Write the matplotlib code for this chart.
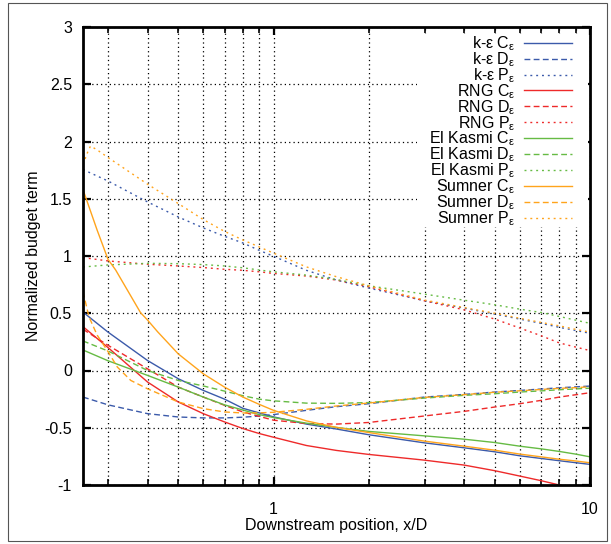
import matplotlib
matplotlib.use("Agg")
import matplotlib.pyplot as plt
from matplotlib.patches import Rectangle
from matplotlib.ticker import FixedLocator, NullFormatter, FuncFormatter

plt.rcParams['font.family'] = ['Liberation Sans', 'DejaVu Sans']
plt.rcParams['mathtext.fontset'] = 'custom'
plt.rcParams['mathtext.rm'] = 'Liberation Sans'
plt.rcParams['mathtext.it'] = 'Liberation Sans'
plt.rcParams['axes.unicode_minus'] = False

# ---------------- data ----------------
x_common = [0.25, 0.3, 0.4, 0.5, 0.6, 0.7, 0.8, 0.9, 1.0, 1.27, 1.58, 2, 3, 4, 5, 6, 7, 8, 9, 10]

ke_C = [0.51, 0.335, 0.087, -0.072, -0.174, -0.250, -0.33, -0.37, -0.405, -0.468, -0.511, -0.561, -0.632, -0.675, -0.710, -0.745, -0.768, -0.788, -0.805, -0.820]
ke_D = [-0.232, -0.30, -0.377, -0.406, -0.414, -0.414, -0.408, -0.398, -0.385, -0.348, -0.316, -0.29, -0.232, -0.209, -0.188, -0.174, -0.162, -0.151, -0.143, -0.136]
ke_P = [1.755, 1.655, 1.472, 1.341, 1.245, 1.172, 1.114, 1.05, 0.998, 0.875, 0.79, 0.72, 0.609, 0.545, 0.493, 0.449, 0.412, 0.377, 0.35, 0.325]

rng_C = [0.383, 0.20, -0.101, -0.275, -0.377, -0.449, -0.507, -0.55, -0.583, -0.655, -0.698, -0.733, -0.783, -0.826, -0.875, -0.922, -0.962, -1.0, -1.03, -1.06]
rng_D = [0.36, 0.22, 0.014, -0.145, -0.232, -0.304, -0.362, -0.40, -0.434, -0.463, -0.468, -0.454, -0.397, -0.357, -0.319, -0.290, -0.261, -0.232, -0.212, -0.194]
rng_P = [0.986, 0.957, 0.928, 0.913, 0.899, 0.884, 0.875, 0.862, 0.848, 0.825, 0.79, 0.731, 0.609, 0.530, 0.449, 0.371, 0.304, 0.241, 0.205, 0.174]

ek_C = [0.179, 0.085, -0.043, -0.145, -0.232, -0.300, -0.345, -0.385, -0.411, -0.46, -0.497, -0.532, -0.571, -0.600, -0.629, -0.661, -0.684, -0.707, -0.73, -0.754]
ek_D = [0.258, 0.17, 0.0, -0.087, -0.135, -0.18, -0.22, -0.25, -0.265, -0.285, -0.287, -0.28, -0.241, -0.217, -0.203, -0.188, -0.178, -0.168, -0.161, -0.154]
ek_P = [0.904, 0.922, 0.936, 0.933, 0.925, 0.913, 0.897, 0.878, 0.862, 0.833, 0.795, 0.74, 0.667, 0.614, 0.574, 0.536, 0.507, 0.472, 0.44, 0.412]

su_C_x = [0.25, 0.277, 0.3, 0.317, 0.38, 0.4, 0.43, 0.5, 0.6, 0.7, 0.8, 0.9, 1.0, 1.27, 1.58, 2, 3, 4, 5, 6, 7, 8, 9, 10]
su_C = [1.58, 1.227, 0.97, 0.878, 0.505, 0.44, 0.339, 0.145, -0.029, -0.145, -0.232, -0.295, -0.348, -0.44, -0.497, -0.542, -0.617, -0.661, -0.696, -0.730, -0.754, -0.775, -0.79, -0.806]
su_D_x = [0.25, 0.261, 0.277, 0.3, 0.321, 0.354, 0.4, 0.5, 0.6, 0.7, 0.8, 0.9, 1.0, 1.27, 1.58, 2, 3, 4, 5, 6, 7, 8, 9, 10]
su_D = [0.688, 0.47, 0.31, 0.164, 0.03, -0.087, -0.16, -0.275, -0.333, -0.362, -0.371, -0.37, -0.365, -0.339, -0.31, -0.284, -0.235, -0.211, -0.19, -0.177, -0.166, -0.156, -0.15, -0.142]
su_P_x = [0.25, 0.258, 0.264, 0.276, 0.3, 0.4, 0.5, 0.6, 0.7, 0.8, 0.9, 1.0, 1.27, 1.58, 2, 3, 4, 5, 6, 7, 8, 9, 10]
su_P = [1.80, 1.90, 1.96, 1.93, 1.86, 1.627, 1.458, 1.318, 1.215, 1.14, 1.08, 1.025, 0.905, 0.819, 0.74, 0.615, 0.55, 0.50, 0.456, 0.42, 0.39, 0.36, 0.335]

x_ticks = [1, 10]
x_minor = [0.3, 0.4, 0.5, 0.6, 0.7, 0.8, 0.9, 2, 3, 4, 5, 6, 7, 8, 9]
y_ticks = [-1, -0.5, 0, 0.5, 1, 1.5, 2, 2.5, 3]

c_blue = '#3b5aaa'
c_red = '#ee2a2a'
c_green = '#66bb44'
c_orange = '#ffa41c'

# ---------------- figure ----------------
fig = plt.figure(figsize=(6.11, 5.44), dpi=100)
ax = fig.add_axes([83/611, 1-485/544, (590-83)/611, (485-27)/544])

FS = 11.5
lw = 1.0
solid = '-'
dashed = (0, (4.2, 2.4))
dotted = (0, (1.4, 2.8))

series = [
    (x_common, ke_C, c_blue, solid, r'k-ε C$_{\varepsilon}$'),
    (x_common, ke_D, c_blue, dashed, r'k-ε D$_{\varepsilon}$'),
    (x_common, ke_P, c_blue, dotted, r'k-ε P$_{\varepsilon}$'),
    (x_common, rng_C, c_red, solid, r'RNG C$_{\varepsilon}$'),
    (x_common, rng_D, c_red, dashed, r'RNG D$_{\varepsilon}$'),
    (x_common, rng_P, c_red, dotted, r'RNG P$_{\varepsilon}$'),
    (x_common, ek_C, c_green, solid, r'El Kasmi C$_{\varepsilon}$'),
    (x_common, ek_D, c_green, dashed, r'El Kasmi D$_{\varepsilon}$'),
    (x_common, ek_P, c_green, dotted, r'El Kasmi P$_{\varepsilon}$'),
    (su_C_x, su_C, c_orange, solid, r'Sumner C$_{\varepsilon}$'),
    (su_D_x, su_D, c_orange, dashed, r'Sumner D$_{\varepsilon}$'),
    (su_P_x, su_P, c_orange, dotted, r'Sumner P$_{\varepsilon}$'),
]
for xs, ys, c, ls, lab in series:
    ax.plot(xs, ys, color=c, linestyle=ls, linewidth=lw, label=lab, zorder=3)

ax.set_xscale('log')
ax.set_xlim(0.25, 10)
ax.set_ylim(-1, 3)
ax.xaxis.set_major_locator(FixedLocator(x_ticks))
ax.xaxis.set_minor_locator(FixedLocator(x_minor))
ax.xaxis.set_major_formatter(FuncFormatter(lambda v, p: '%g' % v))
ax.xaxis.set_minor_formatter(NullFormatter())
ax.yaxis.set_major_locator(FixedLocator(y_ticks))
ax.yaxis.set_major_formatter(FuncFormatter(lambda v, p: '%g' % v))

ax.grid(True, which='both', axis='x', color='black', linestyle=(0, (1, 2.5)), linewidth=0.9)
ax.grid(True, which='major', axis='y', color='black', linestyle=(0, (1, 2.5)), linewidth=0.9)

for s in ax.spines.values():
    s.set_linewidth(2.0)
    s.set_zorder(5)
ax.tick_params(which='major', direction='in', length=6, width=1.6, top=True, right=True,
               labelsize=FS, colors='black')
ax.tick_params(axis='y', which='major', pad=8)
ax.tick_params(axis='x', which='major', pad=12)
ax.tick_params(which='minor', direction='in', length=4, width=1.2, top=True, right=True)

ax.set_xlabel('Downstream position, x/D', fontsize=FS, labelpad=1)
ax.set_ylabel('Normalized budget term', fontsize=FS, labelpad=2)

# white key box (covers the grid behind the key, like gnuplot)
ax.add_patch(Rectangle((0.659, 0.563), 0.337, 0.421, transform=ax.transAxes,
                       facecolor='white', edgecolor='none', zorder=2))

leg = ax.legend(loc='upper right', bbox_to_anchor=(0.9645, 0.984), frameon=False,
                markerfirst=False, fontsize=FS, handlelength=3.0, handletextpad=0.55,
                labelspacing=-0.175, borderaxespad=0, borderpad=0)
leg.set_zorder(4)

fig.patches.append(Rectangle((8/611, 3/544), 599/611, 538/544, transform=fig.transFigure,
                             fill=False, edgecolor='#555555', linewidth=0.8))

fig.savefig('out.png', dpi=100)
